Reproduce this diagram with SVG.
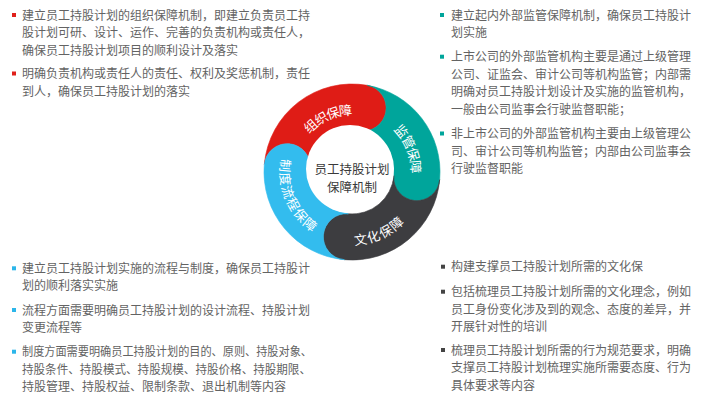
<svg xmlns="http://www.w3.org/2000/svg" width="704" height="408" viewBox="0 0 704 408">
<style>
.t{font-family:"Noto Sans CJK SC","Noto Sans",sans-serif;font-size:12px;fill:#636363}
.lbl{font-family:"Noto Sans CJK SC","Noto Sans",sans-serif;font-size:13px;fill:#ffffff}
.ctr{font-family:"Noto Sans CJK SC","Noto Sans",sans-serif;font-size:12.5px;fill:#3a3a3a}
.br{fill:#e0201b}.bt{fill:#00a59b}.bb{fill:#2cb6ea}.bd{fill:#444444}
</style>
<defs>
<path id="pTop" d="M 291.44 154.64 A 63 63 0 0 1 379.62 115.38"/>
<path id="pRight" d="M 372.09 110.18 A 65 65 0 0 1 409.39 202.52"/>
<path id="pBottom" d="M 322.63 232.22 A 67 67 0 0 0 416.40 190.47"/>
<path id="pLeft" d="M 296.03 137.03 A 66 66 0 0 0 338.28 236.56"/>
</defs>
<rect width="704" height="408" fill="#ffffff"/>

<g id="ring">
<g id="seg-org">
<path d="M 264.34 164.33 A 88 88 0 0 1 367.28 85.34 A 23 23 0 0 1 359.29 130.64 A 42 42 0 0 0 310.16 168.34 A 23 23 0 0 0 264.34 164.33 Z" fill="#df1c16" stroke="#df1c16" stroke-width="0.6"/>
<text class="lbl" dominant-baseline="central"><textPath href="#pTop" startOffset="50%" text-anchor="middle">组织保障</textPath></text>
</g>
<g id="seg-sup">
<path d="M 367.28 85.34 A 88 88 0 0 1 439.67 179.67 A 23 23 0 0 1 393.84 175.66 A 42 42 0 0 0 359.29 130.64 A 23 23 0 0 0 367.28 85.34 Z" fill="#00a59b" stroke="#00a59b" stroke-width="0.6"/>
<text class="lbl" dominant-baseline="central"><textPath href="#pRight" startOffset="50%" text-anchor="middle">监管保障</textPath></text>
</g>
<g id="seg-cul">
<path d="M 439.67 179.67 A 88 88 0 0 1 344.33 259.67 A 23 23 0 0 1 348.34 213.84 A 42 42 0 0 0 393.84 175.66 A 23 23 0 0 0 439.67 179.67 Z" fill="#3d3d40" stroke="#3d3d40" stroke-width="0.6"/>
<text class="lbl" dominant-baseline="central"><textPath href="#pBottom" startOffset="50%" text-anchor="middle">文化保障</textPath></text>
</g>
<g id="seg-proc">
<path d="M 344.33 259.67 A 88 88 0 0 1 264.34 164.33 A 23 23 0 0 1 310.16 168.34 A 42 42 0 0 0 348.34 213.84 A 23 23 0 0 0 344.33 259.67 Z" fill="#33bcee" stroke="#33bcee" stroke-width="0.6"/>
<text class="lbl" dominant-baseline="central"><textPath href="#pLeft" startOffset="50%" text-anchor="middle">制度流程保障</textPath></text>
</g>
<g id="center">
<circle cx="350" cy="169" r="44" fill="#ffffff"/>
<text class="ctr" text-anchor="middle"><tspan x="352" y="173.6">员工持股计划</tspan><tspan x="352" y="191.6">保障机制</tspan></text>
</g>
</g>

<g id="text-org">
<rect class="br" x="12" y="13" width="4" height="4"/>
<rect class="br" x="12" y="71.5" width="4" height="4"/>
<text class="t"><tspan x="22" y="19.5">建立员工持股计划的组织保障机制，即建立负责员工持</tspan><tspan x="22" y="37">股计划可研、设计、运作、完善的负责机构或责任人，</tspan><tspan x="22" y="54.5">确保员工持股计划项目的顺利设计及落实</tspan><tspan x="22" y="78">明确负责机构或责任人的责任、权利及奖惩机制，责任</tspan><tspan x="22" y="95.5">到人，确保员工持股计划的落实</tspan></text>
</g>

<g id="text-sup">
<rect class="bt" x="440" y="13" width="4" height="4"/>
<rect class="bt" x="440" y="54.7" width="4" height="4"/>
<rect class="bt" x="440" y="131.5" width="4" height="4"/>
<text class="t"><tspan x="451" y="19.5">建立起内外部监管保障机制，确保员工持股计</tspan><tspan x="451" y="37">划实施</tspan><tspan x="451" y="61.2">上市公司的外部监管机构主要是通过上级管理</tspan><tspan x="451" y="78.7">公司、证监会、审计公司等机构监管；内部需</tspan><tspan x="451" y="96.2">明确对员工持股计划设计及实施的监管机构，</tspan><tspan x="451" y="113.7">一般由公司监事会行驶监督职能；</tspan><tspan x="451" y="138">非上市公司的外部监管机构主要由上级管理公</tspan><tspan x="451" y="155.5">司、审计公司等机构监管；内部由公司监事会</tspan><tspan x="451" y="173">行驶监督职能</tspan></text>
</g>

<g id="text-proc">
<rect class="bb" x="12" y="266.3" width="4" height="4"/>
<rect class="bb" x="12" y="308" width="4" height="4"/>
<rect class="bb" x="12" y="349.7" width="4" height="4"/>
<text class="t"><tspan x="22" y="272.8">建立员工持股计划实施的流程与制度，确保员工持股计</tspan><tspan x="22" y="290.3">划的顺利落实实施</tspan><tspan x="22" y="314.5">流程方面需要明确员工持股计划的设计流程、持股计划</tspan><tspan x="22" y="332">变更流程等</tspan></text>
<text class="t" x="22" y="356.2" textLength="290" lengthAdjust="spacingAndGlyphs">制度方面需要明确员工持股计划的目的、原则、持股对象、</text>
<text class="t" x="22" y="373.7" textLength="289" lengthAdjust="spacingAndGlyphs">持股条件、持股模式、持股规模、持股价格、持股期限、</text>
<text class="t" x="22" y="391.2">持股管理、持股权益、限制条款、退出机制等内容</text>
</g>

<g id="text-cul">
<rect class="bd" x="441" y="264.7" width="4" height="4"/>
<rect class="bd" x="441" y="289.7" width="4" height="4"/>
<rect class="bd" x="441" y="348" width="4" height="4"/>
<text class="t"><tspan x="451" y="271.2">构建支撑员工持股计划所需的文化保</tspan><tspan x="451" y="296.2">包括梳理员工持股计划所需的文化理念，例如</tspan><tspan x="451" y="313.7">员工身份变化涉及到的观念、态度的差异，并</tspan><tspan x="451" y="331.2">开展针对性的培训</tspan><tspan x="451" y="354.5">梳理员工持股计划所需的行为规范要求，明确</tspan><tspan x="451" y="372">支撑员工持股计划梳理实施所需要态度、行为</tspan><tspan x="451" y="389.5">具体要求等内容</tspan></text>
</g>
</svg>
